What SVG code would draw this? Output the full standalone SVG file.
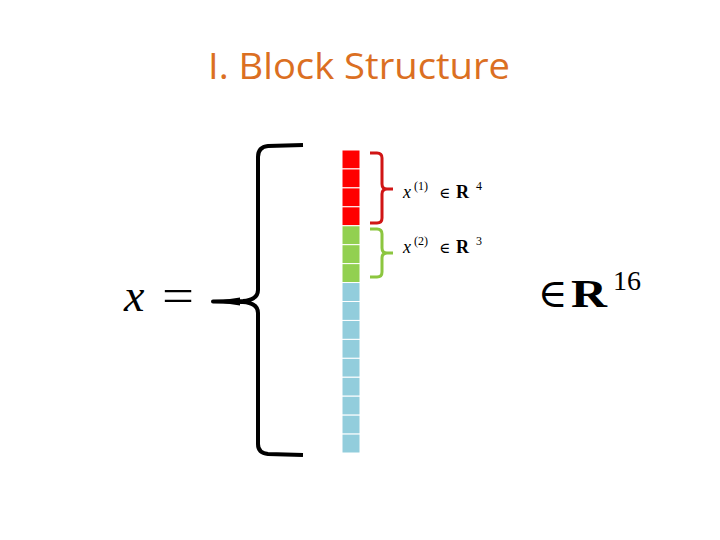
<svg xmlns="http://www.w3.org/2000/svg" width="720" height="540" viewBox="0 0 720 540">
<style>
.title{font-family:"Open Sans","Liberation Sans",sans-serif;font-size:36px;fill:#DB6F22}
.m{font-family:"Liberation Serif","DejaVu Serif",serif;fill:#000}
.el{font-family:"DejaVu Serif",serif}
.it{font-style:italic}
.bf{font-weight:bold}
.red{fill:#FF0000;stroke:#fff;stroke-width:1}
.grn{fill:#92D050;stroke:#fff;stroke-width:1}
.blu{fill:#92CDDC;stroke:#fff;stroke-width:1}
.brace{fill:none;stroke-linejoin:round;stroke-linecap:butt}
</style>
<rect width="720" height="540" fill="#fff"/>
<text id="title" class="title" x="208" y="79" textLength="302" lengthAdjust="spacingAndGlyphs">I. Block Structure</text>
<g id="vector">
<rect class="red" x="342" y="150" width="18" height="18.94"/>
<rect class="red" x="342" y="168.94" width="18" height="18.94"/>
<rect class="red" x="342" y="187.88" width="18" height="18.94"/>
<rect class="red" x="342" y="206.81" width="18" height="18.94"/>
<rect class="grn" x="342" y="225.75" width="18" height="18.94"/>
<rect class="grn" x="342" y="244.69" width="18" height="18.94"/>
<rect class="grn" x="342" y="263.63" width="18" height="18.94"/>
<rect class="blu" x="342" y="282.56" width="18" height="18.94"/>
<rect class="blu" x="342" y="301.5" width="18" height="18.94"/>
<rect class="blu" x="342" y="320.44" width="18" height="18.94"/>
<rect class="blu" x="342" y="339.38" width="18" height="18.94"/>
<rect class="blu" x="342" y="358.31" width="18" height="18.94"/>
<rect class="blu" x="342" y="377.25" width="18" height="18.94"/>
<rect class="blu" x="342" y="396.19" width="18" height="18.94"/>
<rect class="blu" x="342" y="415.13" width="18" height="18.94"/>
<rect class="blu" x="342" y="434.06" width="18" height="18.94"/>
</g>
<g id="connectors">
<path class="brace" stroke="#000" stroke-width="4" d="M303,145 L268,146 Q258,147 258,157 L258,290 Q258,300 243,301 L213,301.5 L243,302 Q258,303 258,313 L258,444 Q258,453 268,454 L303,455"/>
<path fill="#000" d="M213,301.5 L240,297.5 L240,305.5 Z"/>
<path class="brace" stroke="#D01515" stroke-width="3" d="M370,153 L377,153 Q382,153 382,158 L382,184 Q382,189 387,189 L393,189 M387,189 Q382,189 382,194 L382,218 Q382,223 377,223 L370,223"/>
<path class="brace" stroke="#8CC63F" stroke-width="3" d="M370,229 L377,229 Q382,229 382,234 L382,248 Q382,253 387,253 L393,253 M387,253 Q382,253 382,258 L382,272 Q382,277 377,277 L370,277"/>
</g>
<g id="label1">
<text class="m" font-size="18"><tspan class="it" x="403" y="198">x</tspan><tspan font-size="12" x="414" y="190">(1)</tspan><tspan class="el" font-size="15" x="439" y="198">∈</tspan><tspan class="bf" x="456" y="198">R</tspan><tspan font-size="12" x="476" y="190">4</tspan></text>
</g>
<g id="label2">
<text class="m" font-size="18"><tspan class="it" x="403" y="253">x</tspan><tspan font-size="12" x="414" y="245">(2)</tspan><tspan class="el" font-size="15" x="439" y="253">∈</tspan><tspan class="bf" x="456" y="253">R</tspan><tspan font-size="12" x="476" y="245">3</tspan></text>
</g>
<g id="lhs">
<text class="m" font-size="46"><tspan class="it" x="124" y="311">x</tspan><tspan x="162" y="311" textLength="32" lengthAdjust="spacingAndGlyphs">=</tspan></text>
</g>
<g id="rhs">
<text class="m" font-size="40"><tspan x="538" y="307">∈</tspan><tspan class="bf" x="571" y="307" textLength="36" lengthAdjust="spacingAndGlyphs">R</tspan><tspan x="613" y="290" font-size="28">16</tspan></text>
</g>
</svg>
